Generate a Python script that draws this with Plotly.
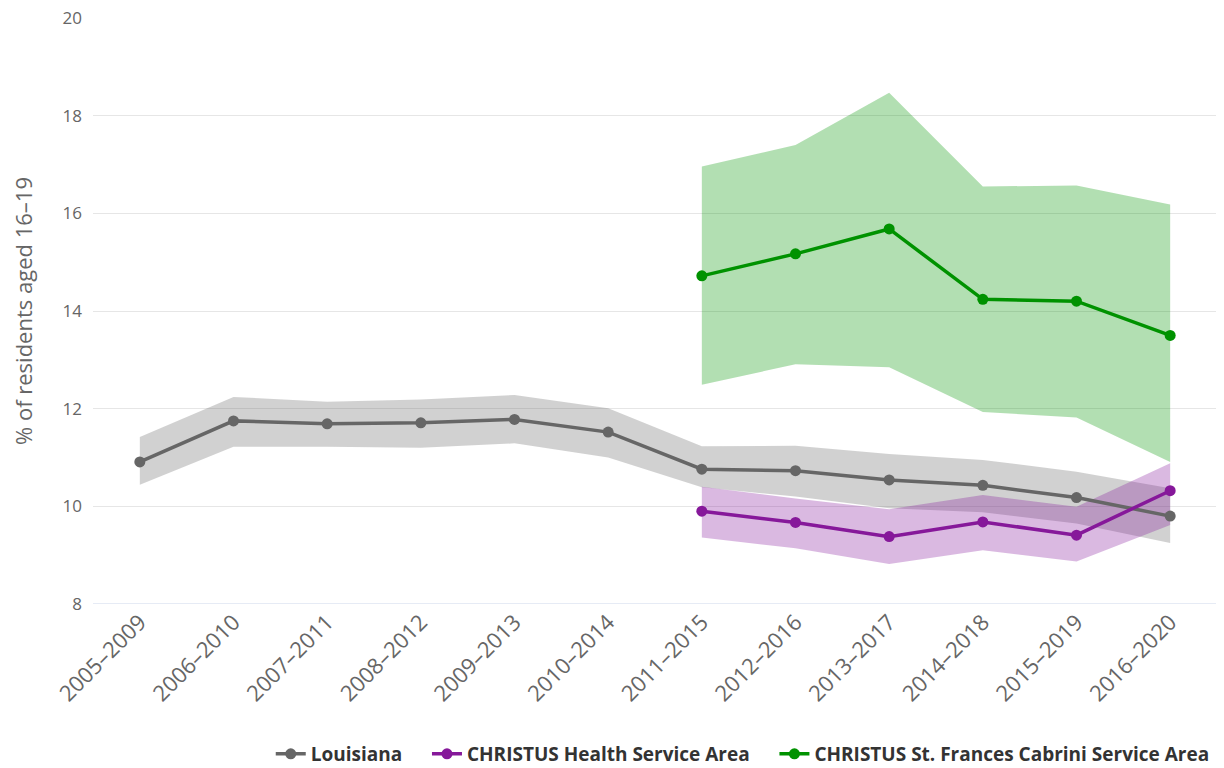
import plotly.graph_objects as go

periods = ["2005–2009", "2006–2010", "2007–2011", "2008–2012", "2009–2013", "2010–2014",
           "2011–2015", "2012–2016", "2013–2017", "2014–2018", "2015–2019", "2016–2020"]

la_val = [10.91, 11.75, 11.69, 11.71, 11.78, 11.52, 10.76, 10.73, 10.54, 10.43, 10.18, 9.80]
la_hi = [11.42, 12.24, 12.14, 12.19, 12.28, 12.01, 11.23, 11.24, 11.07, 10.95, 10.71, 10.37]
la_lo = [10.44, 11.22, 11.22, 11.20, 11.29, 11.00, 10.39, 10.20, 9.96, 9.88, 9.65, 9.25]

chs_periods = periods[6:]
chs_val = [9.90, 9.67, 9.38, 9.68, 9.41, 10.32]
chs_hi = [10.40, 10.16, 9.94, 10.23, 9.99, 10.88]
chs_lo = [9.36, 9.14, 8.82, 9.10, 8.87, 9.62]

cab_val = [14.72, 15.17, 15.68, 14.24, 14.20, 13.50]
cab_hi = [16.96, 17.40, 18.47, 16.55, 16.57, 16.18]
cab_lo = [12.49, 12.91, 12.85, 11.93, 11.82, 10.91]

series = [
    ("Louisiana", periods, la_val, la_hi, la_lo, "rgb(102,102,102)", "rgba(102,102,102,0.3)"),
    ("CHRISTUS Health Service Area", chs_periods, chs_val, chs_hi, chs_lo, "rgb(134,24,154)", "rgba(134,24,154,0.3)"),
    ("CHRISTUS St. Frances Cabrini Service Area", chs_periods, cab_val, cab_hi, cab_lo, "rgb(0,146,0)", "rgba(0,150,0,0.3)"),
]

fig = go.Figure()

for name, xs, v, hi, lo, col, band in series:
    fig.add_trace(go.Scatter(
        x=list(xs) + list(xs)[::-1], y=list(hi) + list(lo)[::-1],
        fill="toself", fillcolor=band, line=dict(width=0), mode="lines",
        showlegend=False, hoverinfo="skip"))

pad = "\u00a0" * 4
for i, (name, xs, v, hi, lo, col, band) in enumerate(series):
    fig.add_trace(go.Scatter(
        x=xs, y=v, name=name + (pad if i < len(series) - 1 else ""), mode="lines+markers",
        line=dict(color=col, width=3.5), marker=dict(color=col, size=11)))

fig.update_layout(
    width=1216, height=760,
    margin=dict(l=85, r=7, t=10, b=164),
    paper_bgcolor="white", plot_bgcolor="white",
    font=dict(family="Open Sans, sans-serif", color="#666666"),
    showlegend=True,
    legend=dict(orientation="h", x=0.998, xanchor="right", yref="container", y=0.0184, yanchor="middle",
                font=dict(size=19, color="#333333", family="Open Sans, sans-serif", weight="bold"),
                itemwidth=30, traceorder="normal"),
    xaxis=dict(type="category", categoryorder="array", categoryarray=periods,
               range=[-0.5, 11.5], tickangle=-45, tickfont=dict(size=22, color="#666666"),
               showgrid=False, showline=False, zeroline=False, ticks="", automargin=False),
    yaxis=dict(range=[8, 20], dtick=2, tickfont=dict(size=17, color="#666666"),
               gridcolor="#e6e6e6", gridwidth=1, zeroline=False, showline=False, automargin=False,
               ticks="", ticklabelstandoff=10, ticklabeloverflow="allow",
               title=dict(text="% of residents aged 16–19", font=dict(size=22, color="#666666"), standoff=36)),
)
fig.add_shape(type="line", xref="paper", yref="y", x0=0, x1=1, y0=8, y1=8,
              line=dict(color="#ccd6eb", width=1), layer="below")

fig.write_html("out.html")
